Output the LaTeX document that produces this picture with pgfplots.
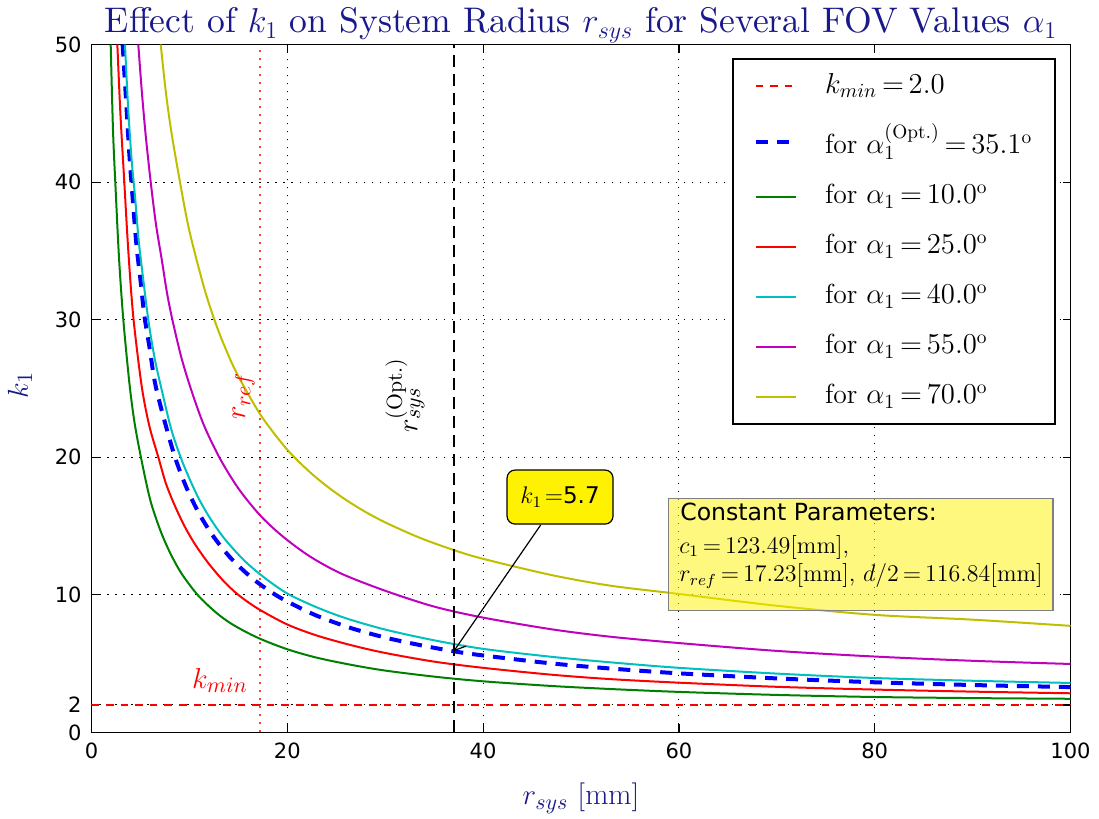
\documentclass[border=0pt]{standalone}
\usepackage{pgfplots}
\pgfplotsset{compat=1.18}
\usepackage{fontspec}
\setsansfont{DejaVu Sans}
\newfontfamily\lmten{lmroman10-regular.otf}
\usetikzlibrary{arrows.meta}
\definecolor{mgreen}{rgb}{0,0.5,0}
\definecolor{mcyan}{rgb}{0,0.75,0.75}
\definecolor{mmag}{rgb}{0.75,0,0.75}
\definecolor{myel}{rgb}{0.75,0.75,0}
\definecolor{navyt}{rgb}{0.1,0.1,0.55}
\begin{document}
\begin{tikzpicture}
\useasboundingbox (-45.75pt,-43.25pt) rectangle (503.75pt,366.25pt);
\begin{axis}[
  at={(0pt,0pt)}, anchor=south west,
  scale only axis, width=489.5pt, height=344pt,
  xmin=0, xmax=100, ymin=0, ymax=50,
  xtick={0,20,40,60,80,100}, ytick={0,2,10,20,30,40,50},
  tick align=inside, major tick length=4pt,
  tick style={black, line width=0.6pt},
  axis line style={line width=0.8pt},
  xtick pos=both, ytick pos=both,
  grid=major, grid style={black, line width=0.5pt, dash pattern=on 0.8pt off 3.2pt},
  ticklabel style={font=\sffamily\fontsize{10.5}{12}\selectfont},
  /pgf/number format/assume math mode=true,
  xticklabel style={inner sep=0pt, yshift=-5pt},
  yticklabel style={inner sep=0pt, xshift=-4.75pt},
  legend style={at={(0.9847,0.9797)}, anchor=north east, draw=black, line width=0.8pt,
    fill=white, font=\fontsize{13.8}{16}\selectfont, row sep=10.3pt,
    inner xsep=10.25pt, inner ysep=6pt,
    nodes={inner sep=1pt, text depth=3pt},
    /tikz/every odd column/.append style={column sep=12.75pt}},
  legend cell align=left,
  legend image code/.code={\draw[#1] (0pt,0pt) -- (20pt,0pt);},
  every axis plot/.append style={line join=round},
]
\addplot[red, line width=1pt, dash pattern=on 3.8pt off 3.5pt] coordinates {(0,2) (100,2)};
\addlegendentry{$k_{min}\,{=}\,2.0$}
\addplot[blue, line width=2pt, dash pattern=on 6pt off 4.5pt, smooth] coordinates {
(3.18,50)(3.5,46.3)(3.85,42.2)(4.25,38.4)(4.61,35.3)(5.0,32.9)(5.4,30.3)(5.9,28.1)(6.49,25.4)(7.4,22.8)(8.53,20)(9.7,17.8)(11,15.9)(12.5,14.2)(14.3,12.62)(16.5,11.16)(18.5,10.14)(20,9.52)(23,8.49)(26.5,7.59)(30,6.9)(33.5,6.36)(37,5.9)(40,5.6)(47,5.02)(53,4.65)(60,4.3)(70,3.93)(80,3.65)(90,3.45)(100,3.3)};
\addlegendentry{for $\alpha_1^{(\mathrm{Opt.})}\,{=}\,35.1^{\mathrm{o}}$}
\addplot[mgreen, line width=1pt, smooth] coordinates {
(1.96,50)(2.2,43.7)(2.47,39.4)(2.81,34.5)(3.25,30)(3.87,25.4)(4.4,22.5)(5.12,19.75)(6,16.9)(7,14.75)(8,13.1)(9.2,11.55)(10.9,9.95)(12.8,8.67)(14.5,7.81)(17,6.88)(20,6.05)(23,5.44)(26.5,4.92)(30,4.5)(35,4.06)(40,3.72)(47,3.38)(53,3.16)(60,2.95)(70,2.73)(80,2.58)(90,2.5)(100,2.45)};
\addlegendentry{for $\alpha_1\,{=}\,10.0^{\mathrm{o}}$}
\addplot[red, line width=1pt, smooth] coordinates {
(2.64,50)(2.95,45)(3.35,40)(3.76,35)(4.27,30.2)(5.12,25.2)(5.9,22.3)(6.83,20)(7.6,18.1)(8.5,16.5)(9.5,15.0)(10.6,13.65)(12,12.25)(13.5,11.0)(15,10)(17,9.0)(20,7.85)(23,7.05)(26.5,6.35)(30,5.78)(35,5.15)(40,4.7)(47,4.2)(53,3.88)(60,3.62)(70,3.32)(80,3.12)(90,2.97)(100,2.85)};
\addlegendentry{for $\alpha_1\,{=}\,25.0^{\mathrm{o}}$}
\addplot[mcyan, line width=1pt, smooth] coordinates {
(3.42,50)(3.75,45.3)(4.1,41.6)(4.44,39.0)(4.8,35.9)(5.12,33.9)(5.8,30)(6.45,27.2)(7.17,24.9)(8.2,21.9)(9.38,19.5)(10.8,17.22)(12,15.7)(13.5,14.16)(15.5,12.57)(17.5,11.34)(20,10.1)(23,9.1)(26,8.3)(30,7.48)(35,6.7)(40,6.08)(47,5.5)(53,5.1)(60,4.7)(70,4.28)(80,3.96)(90,3.76)(100,3.6)};
\addlegendentry{for $\alpha_1\,{=}\,40.0^{\mathrm{o}}$}
\addplot[mmag, line width=1pt, smooth] coordinates {
(4.78,50)(5.15,46.5)(5.55,43.3)(6.08,39.8)(6.6,36.86)(7.17,34.4)(7.7,32.0)(8.26,30)(9.2,27.2)(10.23,24.8)(11.5,22.3)(13.13,19.9)(15,17.74)(17.2,15.8)(19.5,14.27)(22.3,12.8)(25.5,11.55)(30,10.3)(35,9.15)(40,8.35)(47,7.5)(53,6.96)(60,6.5)(70,5.93)(80,5.52)(90,5.21)(100,4.98)};
\addlegendentry{for $\alpha_1\,{=}\,55.0^{\mathrm{o}}$}
\addplot[myel, line width=1pt, smooth] coordinates {
(7.07,50)(7.6,46.5)(8.2,43.45)(9.04,40)(9.8,37.1)(10.5,35)(11.6,32.08)(12.55,30)(13.3,28.58)(14.4,26.75)(15.68,25)(17.5,22.84)(20,20.55)(22.5,18.8)(25,17.39)(27.5,16.23)(30,15.27)(33.5,14.16)(37,13.26)(40,12.62)(47,11.44)(53,10.67)(60,10.07)(70,9.21)(80,8.55)(90,8.2)(100,7.75)};
\addlegendentry{for $\alpha_1\,{=}\,70.0^{\mathrm{o}}$}
\addplot[black, line width=1pt, dash pattern=on 6pt off 3.5pt, forget plot] coordinates {(37.0,0) (37.0,50)};
\addplot[red, opacity=0.75, line width=1pt, dash pattern=on 1.2pt off 2.8pt, forget plot] coordinates {(17.23,0) (17.23,50)};
% annotations
\node[anchor=base west, red, font=\fontsize{15.5}{18}\selectfont, inner sep=0pt] at (axis cs:10.24,3.21) {$k_{min}$};
\node[anchor=base west, rotate=90, red, font=\fontsize{15.5}{18}\selectfont, inner sep=0pt] at (axis cs:15.68,22.71) {$r_{ref}$};
\node[anchor=base west, rotate=90, black, font=\fontsize{15.5}{18}\selectfont, inner sep=0pt] at (axis cs:33.28,21.77) {$r_{sys}^{(\mathrm{Opt.})}$};
\draw[line width=0.6pt, -{Straight Barb[length=5pt,width=7pt]}] (axis cs:45.88,15.08) -- (axis cs:37.0,5.9);
\node[draw=black, line width=0.6pt, fill=yellow, rounded corners=4pt, minimum width=53pt, minimum height=27pt, inner sep=0pt, font=\fontsize{11.5}{14}\selectfont] at (axis cs:47.86,17.11) {$k_1\!=$\sffamily 5.7};
\draw[gray, line width=0.6pt, fill=yellow, fill opacity=0.5] (axis cs:58.92,8.85) rectangle (axis cs:98.21,17.02);
\node[anchor=base west, inner sep=0pt, font=\sffamily\fontsize{11.8}{14}\selectfont] at (axis cs:60.1,15.44) {Constant Parameters:};
\node[anchor=base west, inner sep=0pt, font=\fontsize{12}{14}\selectfont] at (axis cs:60.0,13.02) {$c_1\,{=}\,123.49[\mathrm{mm}]$,};
\node[anchor=base west, inner sep=0pt, font=\fontsize{12}{14}\selectfont] at (axis cs:60.0,10.96) {$r_{ref}\,{=}\,17.23[\mathrm{mm}]$, $d/2\,{=}\,116.84[\mathrm{mm}]$};
\end{axis}
\node[anchor=base, font=\lmten\fontsize{17.8}{20}\selectfont, text=navyt] at (244.75pt,349.75pt) {Effect of $k_1$ on System Radius $r_{sys}$ for Several FOV Values $\alpha_1$};
\node[anchor=base, font=\fontsize{15}{18}\selectfont, text=navyt] at (244.75pt,-36.25pt) {$r_{sys}$ $[\mathrm{mm}]$};
\node[rotate=90, font=\fontsize{15}{18}\selectfont, text=navyt] at (-35.75pt,173.75pt) {$k_1$};
\end{tikzpicture}
\end{document}
